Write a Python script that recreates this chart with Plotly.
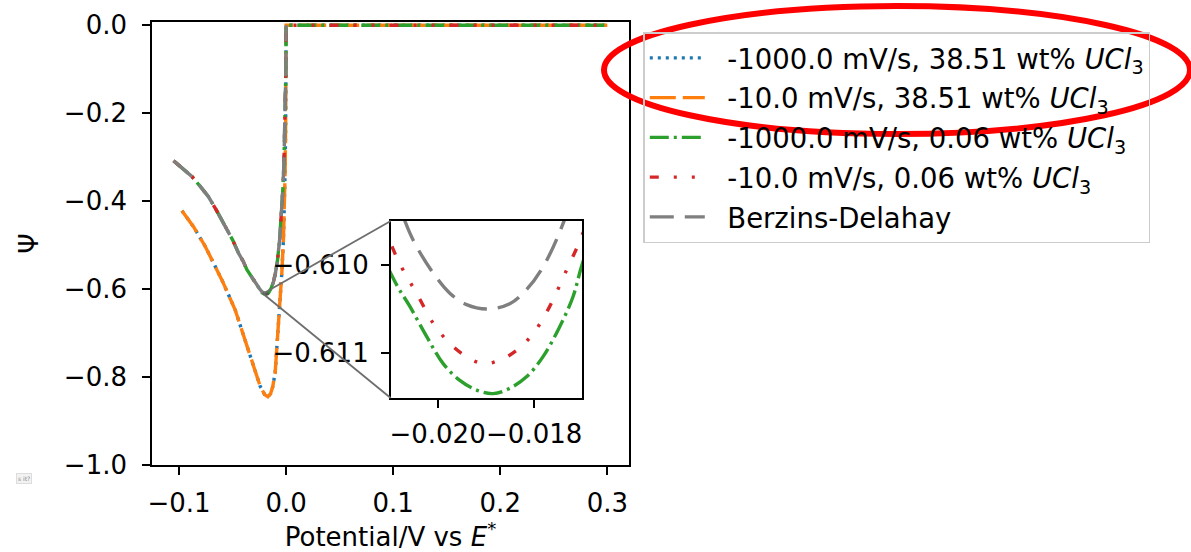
import plotly.graph_objects as go

# ---------------- data ----------------
# 38.51 wt% UCl3 : the -1000 mV/s and -10 mV/s curves coincide
x_high = [-0.0973, -0.0865, -0.0755, -0.0600, -0.0476, -0.0382, -0.0289, -0.0242,
          -0.0200, -0.0170, -0.0145, -0.0125, -0.0102, -0.0085, -0.0072, -0.0055,
          -0.0040, -0.0025, -0.0015, -0.0009, -0.0004, 0.0, 0.3]
psi_high_fast = [-0.422, -0.458, -0.503, -0.579, -0.647, -0.715, -0.783, -0.821,
                 -0.840, -0.845, -0.838, -0.822, -0.790, -0.730, -0.680, -0.620,
                 -0.563, -0.488, -0.410, -0.330, -0.220, 0.0, 0.0]
psi_high_slow = [-0.422, -0.458, -0.503, -0.579, -0.647, -0.715, -0.783, -0.821,
                 -0.840, -0.845, -0.838, -0.822, -0.790, -0.730, -0.680, -0.620,
                 -0.563, -0.488, -0.410, -0.330, -0.220, 0.0, 0.0]

# shared descending branch (0.06 wt% curves and Berzins-Delahay overlap here)
x_left = [-0.1051, -0.0970, -0.0879, -0.0800, -0.0725, -0.0650, -0.0569, -0.0500,
          -0.0445, -0.0400, -0.0366, -0.0330, -0.0289, -0.0250]
psi_left = [-0.308, -0.325, -0.344, -0.367, -0.390, -0.421, -0.458, -0.488,
            -0.518, -0.537, -0.556, -0.570, -0.586, -0.5985]
# shared rising branch
x_right = [-0.0140, -0.0120, -0.0100, -0.0080, -0.0060, -0.0045, -0.0030, -0.0020,
           -0.0012, -0.0006, -0.0002, 0.0]
psi_right = [-0.598, -0.585, -0.564, -0.534, -0.486, -0.438, -0.372, -0.312,
             -0.245, -0.172, -0.098, 0.0]

# region of the peak
x_peak_bd = [-0.0225, -0.020676, -0.020434, -0.020091, -0.019746, -0.019400, -0.018954,
             -0.018505, -0.018159, -0.017816, -0.017403, -0.0165]
psi_peak_bd = [-0.6063, -0.60950, -0.60979, -0.61009, -0.61032, -0.61045, -0.61050,
               -0.61044, -0.61028, -0.61002, -0.60953, -0.6080]

x_peak_slow = [-0.0225, -0.020972, -0.020711, -0.020434, -0.020091, -0.019746, -0.019400,
               -0.019057, -0.018712, -0.018366, -0.018023, -0.017678, -0.017332,
               -0.017022, -0.0165]
psi_peak_slow = [-0.6072, -0.60975, -0.61006, -0.61032, -0.61066, -0.61089, -0.61104,
                 -0.61112, -0.61108, -0.61097, -0.61078, -0.61047, -0.61006,
                 -0.60968, -0.6088]

x_peak_fast = [-0.0225, -0.020918, -0.020573, -0.020227, -0.019884, -0.019539, -0.019193,
               -0.018850, -0.018505, -0.018159, -0.017816, -0.017471, -0.017196,
               -0.017022, -0.0165]
psi_peak_fast = [-0.6080, -0.61015, -0.61047, -0.61081, -0.61112, -0.61131, -0.61142,
                 -0.61146, -0.61140, -0.61127, -0.61104, -0.61070, -0.61036,
                 -0.61002, -0.6091]

# flat tail after E* for the four simulated curves
x_tail = [0.3]
psi_tail = [0.0]

names = ["-1000.0 mV/s, 38.51 wt% <i>UCl</i><sub>3</sub>",
         "-10.0 mV/s, 38.51 wt% <i>UCl</i><sub>3</sub>",
         "-1000.0 mV/s, 0.06 wt% <i>UCl</i><sub>3</sub>",
         "-10.0 mV/s, 0.06 wt% <i>UCl</i><sub>3</sub>",
         "Berzins-Delahay"]
colors = ["#1f77b4", "#ff7f0e", "#2ca02c", "#d62728", "#7f7f7f"]
dashes = ["3px,5px", "26px,7px", "19px,5px,3px,5px", "9px,15px,3px,15px,3px,15px",
          "24px,11px"]

main_xrange = [-0.12525, 0.32025]
main_yrange = [-1.0, 0.0075]
inset_xrange = [-0.02097, -0.01701]
inset_yrange = [-0.61151, -0.60950]

series = [
    (x_high, psi_high_fast),
    (x_high, psi_high_slow),
    (x_left + x_peak_fast + x_right + x_tail, psi_left + psi_peak_fast + psi_right + psi_tail),
    (x_left + x_peak_slow + x_right + x_tail, psi_left + psi_peak_slow + psi_right + psi_tail),
    (x_left + x_peak_bd + x_right, psi_left + psi_peak_bd + psi_right),
]

# ---------------- layout geometry (pixels of the 1191x552 page) ----------------
W, H = 1191, 552
PL, PR, PT, PB = 152, 629, 22, 465   # main axes box


def to_paper(px, py):
    return (px - PL) / (PR - PL), (PB - py) / (PB - PT)


ins_x0, ins_y0 = to_paper(390.7, 398.0)
ins_x1, ins_y1 = to_paper(582.0, 221.0)

FONT = "DejaVu Sans"
FS = 26
NB = "\u00a0\u00a0"   # gap between legend line sample and label

fig = go.Figure()
for (xs, ys), nm, c, d in zip(series, names, colors, dashes):
    fig.add_trace(go.Scatter(x=xs, y=ys, mode="lines", name=NB + nm,
                             line=dict(color=c, width=3.4, dash=d),
                             xaxis="x", yaxis="y", legendgroup=nm))
# inset: the three low-concentration curves around the peak
for (xs, ys), nm, c, d in list(zip(series, names, colors, dashes))[2:]:
    fig.add_trace(go.Scatter(x=xs, y=ys, mode="lines", name=nm, showlegend=False,
                             line=dict(color=c, width=3.4, dash=d, shape="spline", smoothing=1.0),
                             xaxis="x2", yaxis="y2", legendgroup=nm))

axis_common = dict(showline=True, linecolor="black", linewidth=1.6, mirror=True,
                   ticks="outside", ticklen=8, tickwidth=1.6, tickcolor="black",
                   showgrid=False, zeroline=False, automargin=False,
                   tickfont=dict(family=FONT, size=FS, color="black"))

fig.update_layout(
    width=W, height=H,
    margin=dict(l=PL, r=W - PR, t=PT, b=H - PB, pad=0),
    paper_bgcolor="white", plot_bgcolor="white",
    font=dict(family=FONT, size=FS, color="black"),
    xaxis=dict(range=main_xrange, domain=[0, 1], tickmode="linear", tick0=-0.1, dtick=0.1,
               tickformat=".1f", ticklabelstandoff=6,
               title=dict(text="Potential/V vs <i>E</i><sup>*</sup>",
                          font=dict(family=FONT, size=FS), standoff=10),
               **axis_common),
    yaxis=dict(range=main_yrange, domain=[0, 1], tickmode="linear", tick0=0, dtick=0.2,
               tickformat=".1f", ticklabelstandoff=10,
               title=dict(text="Ψ", font=dict(family=FONT, size=FS), standoff=18),
               **axis_common),
    xaxis2=dict(range=inset_xrange, domain=[ins_x0, ins_x1], anchor="y2", tickangle=0,
                tickvals=[-0.020, -0.018], tickformat=".3f", ticklabelstandoff=4,
                **axis_common),
    yaxis2=dict(range=inset_yrange, domain=[ins_y0, ins_y1], anchor="x2",
                tickvals=[-0.610, -0.611], tickformat=".3f", ticklabelstandoff=7,
                **axis_common),
    legend=dict(x=to_paper(643.3, 0)[0], y=to_paper(0, 32.0)[1], xanchor="left", yanchor="top",
                bgcolor="rgba(255,255,255,0)", bordercolor="#cccccc", borderwidth=1.5,
                font=dict(family=FONT, size=27.5, color="black"),
                itemwidth=55, tracegroupgap=1),
    showlegend=True,
)

# zoom rectangle and connector lines (mark_inset style)
def main_to_paper(x, y):
    return ((x - main_xrange[0]) / (main_xrange[1] - main_xrange[0]),
            (y - main_yrange[0]) / (main_yrange[1] - main_yrange[0]))

rx0, ry0 = main_to_paper(inset_xrange[0], inset_yrange[0])
rx1, ry1 = main_to_paper(inset_xrange[1], inset_yrange[1])
shapes = [
    dict(type="rect", xref="paper", yref="paper", x0=rx0, y0=ry0, x1=rx1, y1=ry1,
         line=dict(color="#555555", width=1.8)),
    dict(type="line", xref="paper", yref="paper", x0=rx0, y0=ry1, x1=ins_x0, y1=ins_y1,
         line=dict(color="#6e6e6e", width=1.8)),
    dict(type="line", xref="paper", yref="paper", x0=rx0, y0=ry0, x1=ins_x0, y1=ins_y0,
         line=dict(color="#6e6e6e", width=1.8)),
]
# red highlight ellipse drawn over the legend
ex0, ey0 = to_paper(604, 134)
ex1, ey1 = to_paper(1190, 6)
shapes.append(dict(type="circle", xref="paper", yref="paper", x0=ex0, y0=ey0, x1=ex1, y1=ey1,
                   line=dict(color="#ff0000", width=6), layer="above"))
fig.update_layout(shapes=shapes)

# small stray tooltip box at the lower left of the screenshot
tx, ty = to_paper(16, 484)
fig.add_annotation(x=tx, y=ty, xref="paper", yref="paper", text="s it?", showarrow=False,
                   font=dict(family=FONT, size=6, color="#888888"),
                   bgcolor="#f2f2f2", bordercolor="#dddddd", borderwidth=1, borderpad=1)

fig.write_html("out.html", config={"displayModeBar": False},
               post_script="document.body.style.margin='0px';"
                           "document.body.style.overflow='hidden';")
